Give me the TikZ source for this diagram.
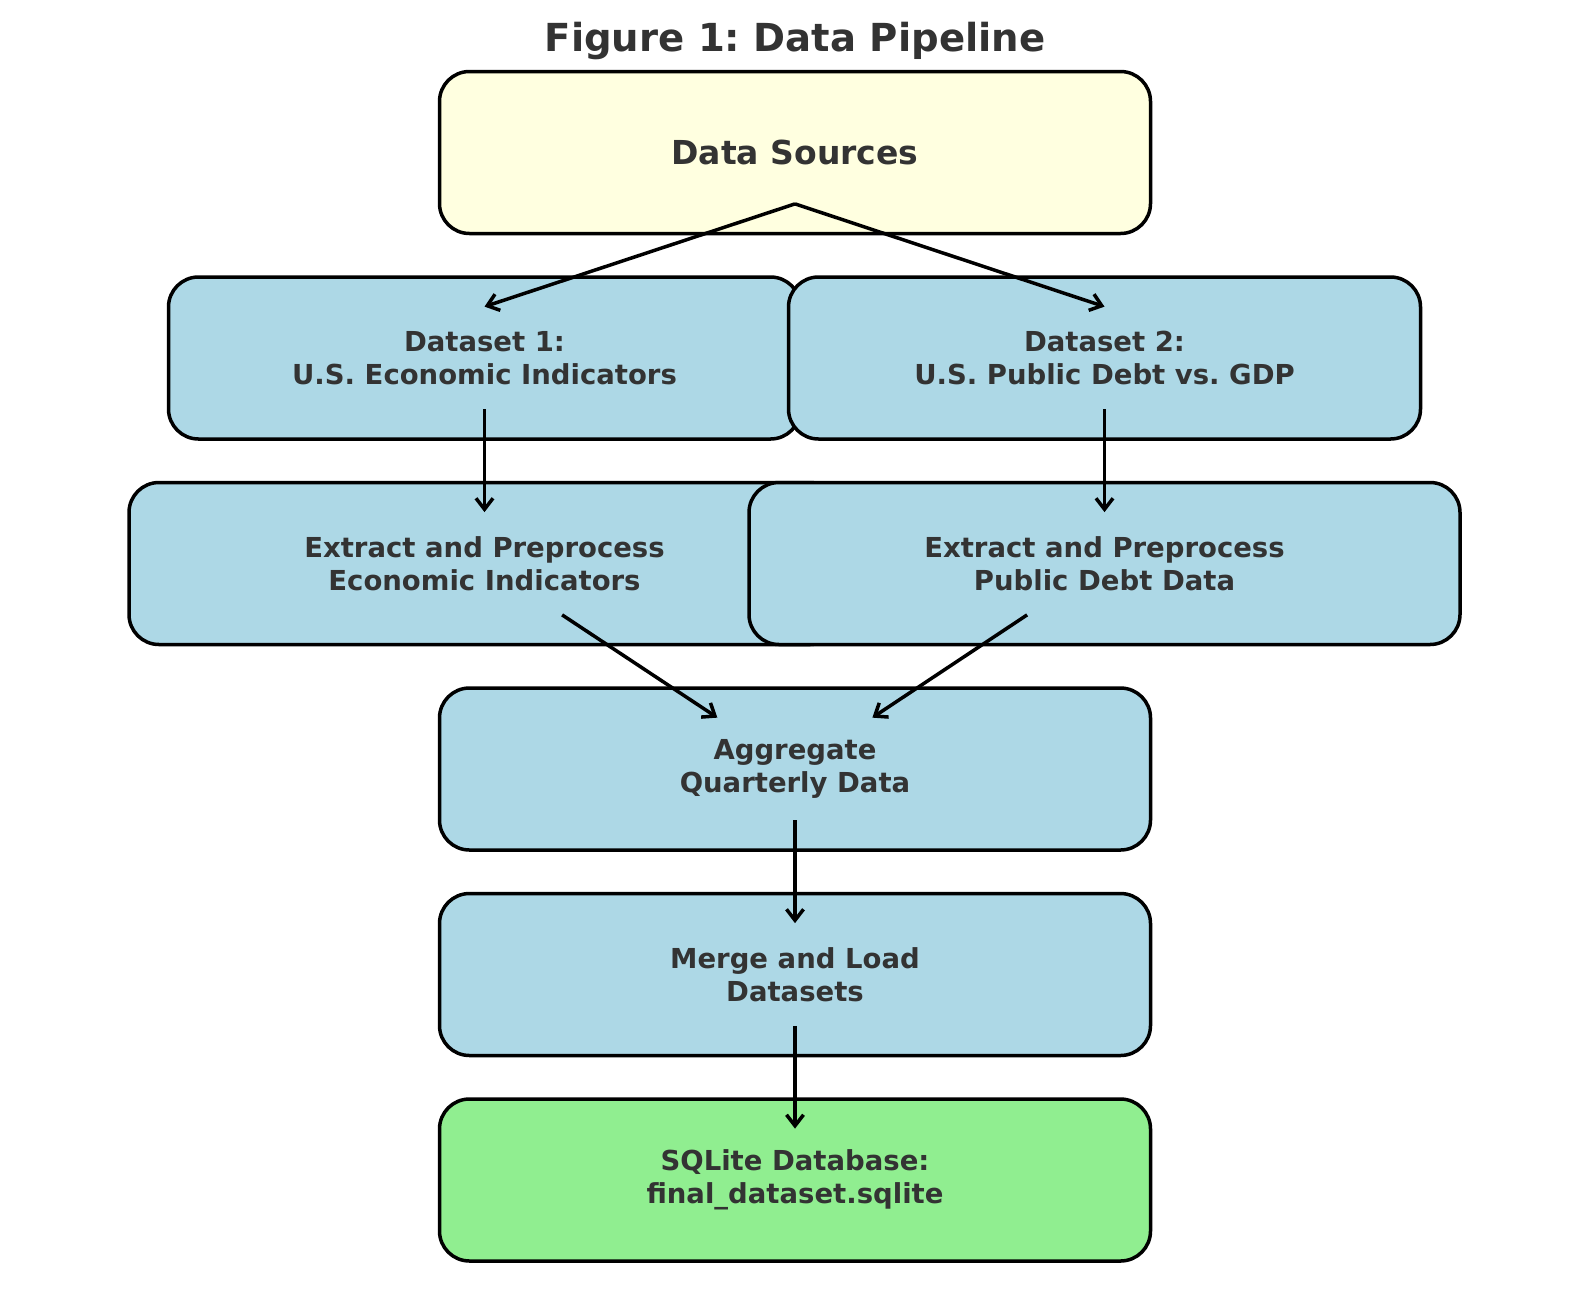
\documentclass[tikz,border=0pt]{standalone}
\usepackage{fontspec}
\setmainfont{DejaVu Sans}
\usetikzlibrary{arrows.meta,calc,positioning}
\definecolor{SourceYellow}{HTML}{FFFFE0}
\definecolor{StageBlue}{HTML}{ADD8E6}
\definecolor{StoreGreen}{HTML}{90EE90}
\definecolor{InkGray}{HTML}{333333}
\frenchspacing

\begin{document}
\begin{tikzpicture}[x=1pt,y=-1pt,node distance=40pt,
    box/.style={rounded corners=30pt,draw=black,line width=3.5pt,
                minimum width=711pt,minimum height=162pt,align=center,text=InkGray,
                font=\fontsize{27.5}{33}\selectfont\bfseries},
    flow/.style={-{Straight Barb[length=11pt,width=17pt]},line width=3.5pt,black}]
    \useasboundingbox (0,0) rectangle (1589,1302);
    \node[anchor=base,text=InkGray,font=\fontsize{38.6}{46}\selectfont\bfseries] (title) at (795,51.7) {Figure 1: Data Pipeline};
    \node[box,fill=SourceYellow,font=\fontsize{33}{40}\selectfont\bfseries] (src) at (795,152.5) {Data Sources};
    \node[box,fill=StageBlue,minimum width=632pt,below=of src,xshift=-310.5pt] (ds1) {Dataset 1:\\U.S. Economic Indicators};
    \node[box,fill=StageBlue,minimum width=632pt,below=of src,xshift=309.5pt] (ds2) {Dataset 2:\\U.S. Public Debt vs. GDP};
    \node[box,fill=StageBlue,below=of ds1] (prep1) {Extract and Preprocess\\Economic Indicators};
    \node[box,fill=StageBlue,below=of ds2] (prep2) {Extract and Preprocess\\Public Debt Data};
    \coordinate (join) at (src |- prep1.south);
    \node[box,fill=StageBlue,below=of join] (agg) {Aggregate\\Quarterly Data};
    \node[box,fill=StageBlue,below=of agg] (merge) {Merge and Load\\Datasets};
    \node[box,fill=StoreGreen,below=of merge] (db) {SQLite Database:\\final\_dataset.sqlite};
    % split from the sources
    \foreach \ds in {ds1,ds2}
      \draw[flow] ($(src.center)!.25!(src.center |- \ds.center)$) -- ($(\ds.center)!.25!(\ds.center |- src.center)$);
    \foreach \a/\b in {ds1/prep1,ds2/prep2,prep1/agg,prep2/agg,agg/merge,merge/db}
      \draw[flow] ($(\a.center)!.25!(\b.center)$) -- ($(\a.center)!.75!(\b.center)$);
  \end{tikzpicture}
\end{document}
